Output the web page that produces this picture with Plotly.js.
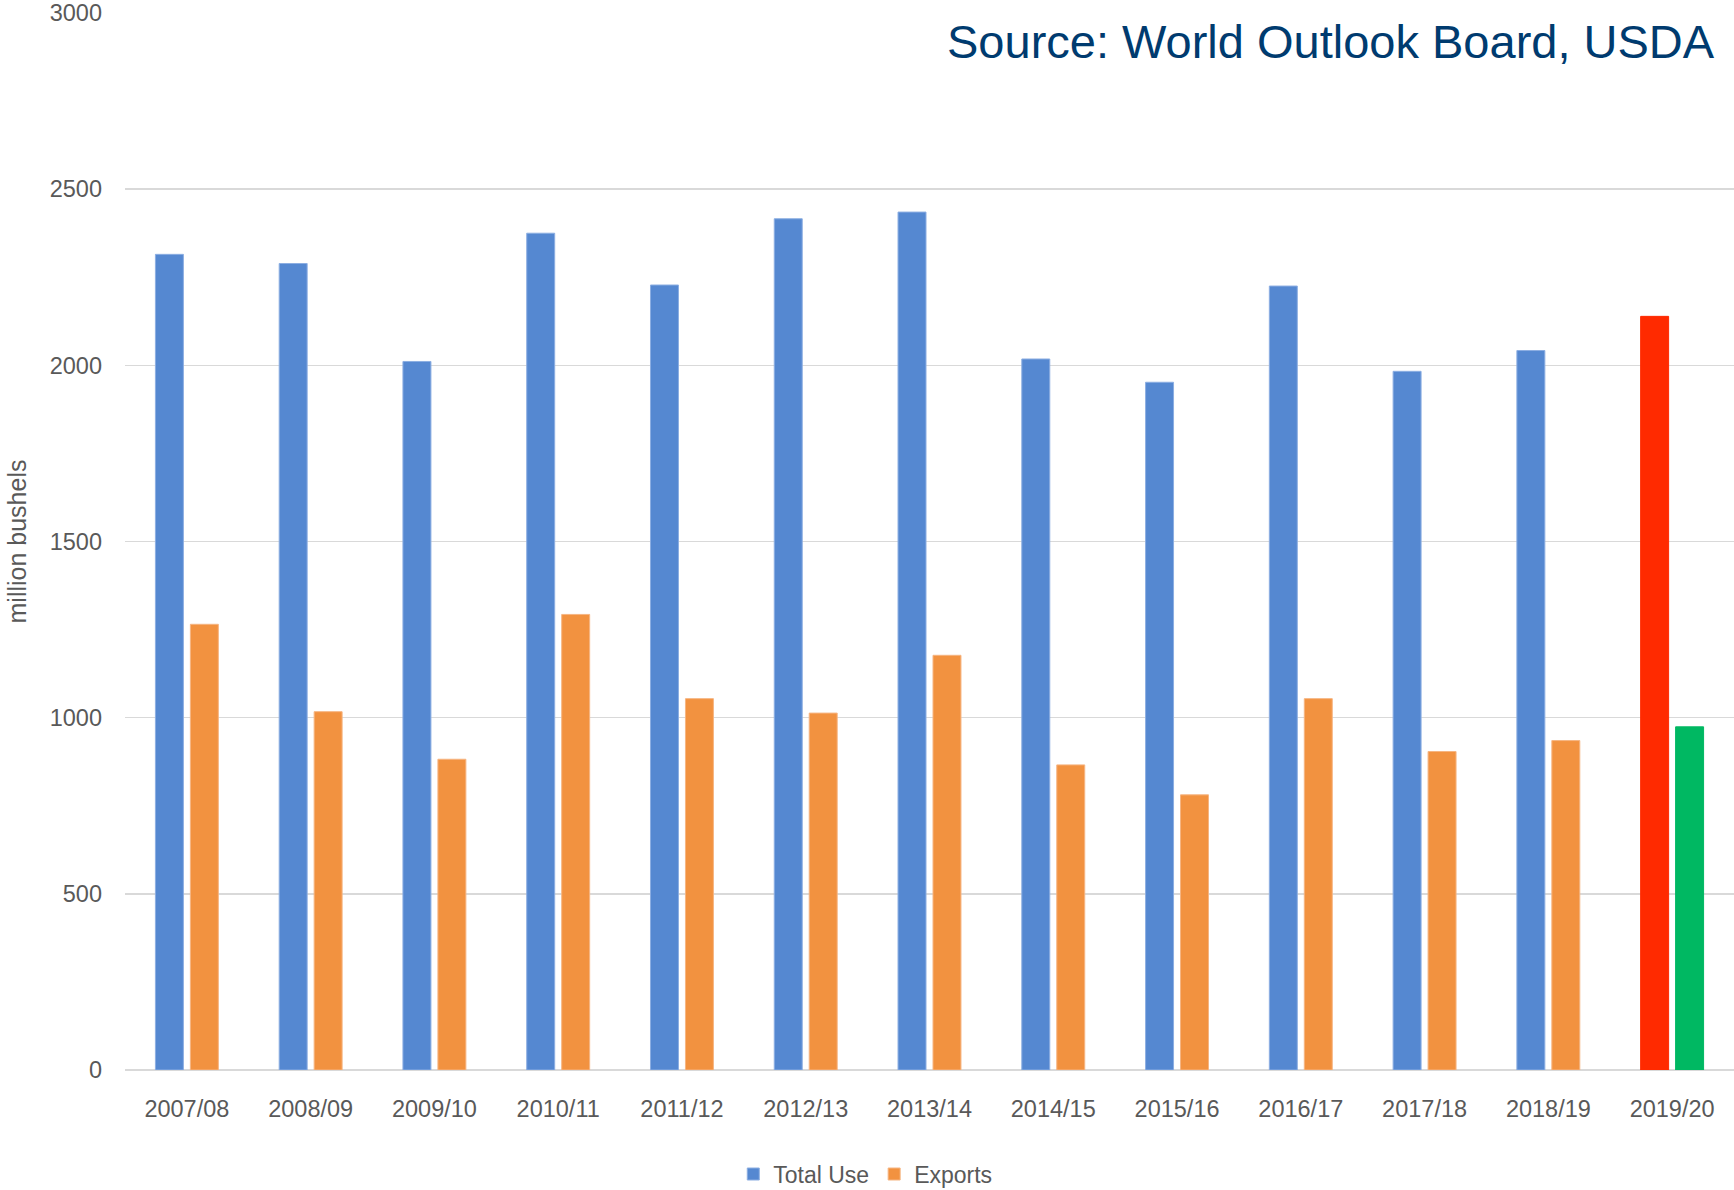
<!DOCTYPE html>
<html>
<head>
<meta charset="utf-8">
<script src="https://cdn.plot.ly/plotly-3.0.1.min.js"></script>
<style>
  html, body { margin: 0; padding: 0; background: #ffffff; }
  #chart { width: 1734px; height: 1190px; }
</style>
</head>
<body>
<div id="chart"></div>
<script>
// ---- data ----
const years = ["2007/08", "2008/09", "2009/10", "2010/11", "2011/12", "2012/13", "2013/14",
               "2014/15", "2015/16", "2016/17", "2017/18", "2018/19", "2019/20"];
const totalUse = [2315, 2289, 2011, 2375, 2228, 2416, 2435, 2018, 1952, 2225, 1983, 2042, 2139];
const exportsVals = [1265, 1017, 882, 1293, 1054, 1013, 1177, 866, 781, 1054, 904, 935, 974];
const seriesNames = ["Total Use", "Exports"];
const sourceText = "Source: World Outlook Board, USDA";
const yTitle = "million bushels";
const yTicks = [0, 500, 1000, 1500, 2000, 2500, 3000];

// colours: last season highlighted
const blue = "#5588D1", orange = "#F29240", red = "#FF2A00", green = "#00B862";
const useColors = years.map((y, i) => i === years.length - 1 ? red : blue);
const expColors = years.map((y, i) => i === years.length - 1 ? green : orange);
const useLine = years.map((y, i) => i === years.length - 1 ? red : "#8CAEE2");
const expLine = years.map((y, i) => i === years.length - 1 ? green : "#F6B582");

const font = "Liberation Sans, Arial, sans-serif";

const traces = [
  {
    type: "bar", name: seriesNames[0], x: years, y: totalUse,
    marker: { color: useColors, line: { color: useLine, width: 1 } },
    hoverinfo: "x+y+name"
  },
  {
    type: "bar", name: seriesNames[1], x: years, y: exportsVals,
    marker: { color: expColors, line: { color: expLine, width: 1 } },
    hoverinfo: "x+y+name"
  }
];

const layout = {
  width: 1734, height: 1190,
  paper_bgcolor: "#ffffff", plot_bgcolor: "#ffffff",
  margin: { l: 125, r: 0, t: 13, b: 120 },
  barmode: "group",
  bargap: 0.435,
  bargroupgap: 0.2,
  font: { family: font, color: "#595959", size: 23 },
  xaxis: {
    type: "category",
    tickfont: { family: font, size: 23.5, color: "#595959" },
    showgrid: false,
    showline: false,
    zeroline: false,
    ticks: "",
    ticklabelstandoff: 22
  },
  yaxis: {
    range: [0, 3000],
    tickvals: yTicks,
    ticktext: yTicks.map(String),
    tickfont: { family: font, size: 23.5, color: "#595959" },
    showgrid: true,
    gridcolor: "#D9D9D9",
    gridwidth: 1.5,
    zeroline: true,
    zerolinecolor: "#D9D9D9",
    zerolinewidth: 2,
    showline: false,
    ticks: "",
    ticklabelstandoff: 22
  },
  showlegend: true,
  legend: {
    orientation: "h",
    xref: "container", yref: "container",
    x: 0.499, xanchor: "center",
    y: 0.0134, yanchor: "middle",
    font: { family: font, size: 23, color: "#595959" },
    bgcolor: "rgba(0,0,0,0)",
    itemwidth: 30
  },
  annotations: [
    {
      text: sourceText,
      xref: "paper", yref: "paper",
      x: 1, xanchor: "right", xshift: -17,
      y: 0.9732, yanchor: "middle",
      showarrow: false,
      font: { family: font, size: 47, color: "#003B6F" }
    },
    {
      text: yTitle,
      textangle: -90,
      xref: "paper", yref: "paper",
      x: 0, xanchor: "center", xshift: -109,
      y: 0.5, yanchor: "middle",
      showarrow: false,
      font: { family: font, size: 25, color: "#595959" }
    }
  ]
};

Plotly.newPlot("chart", traces, layout, { displayModeBar: false, staticPlot: true });
</script>
</body>
</html>
